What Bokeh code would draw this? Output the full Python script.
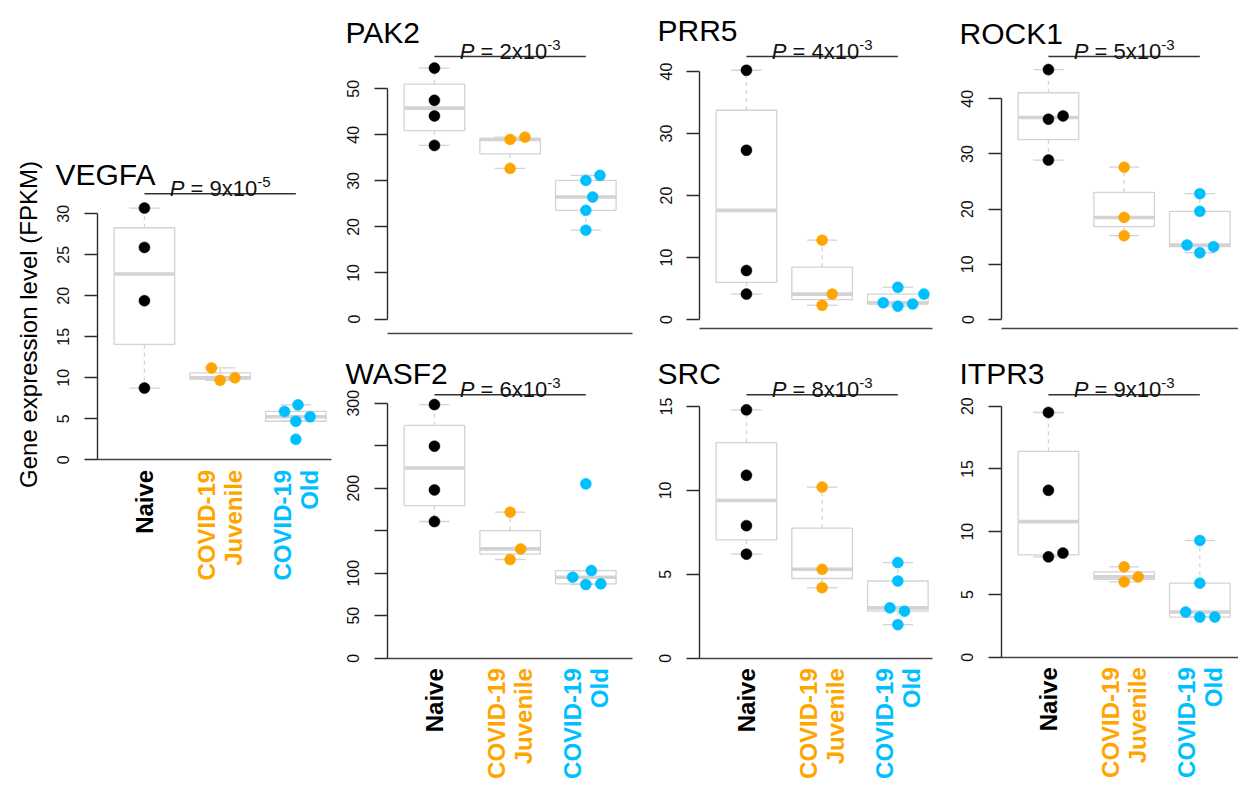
import math
from bokeh.plotting import figure
from bokeh.models import Range1d, FixedTicker, ColumnDataSource
from bokeh.layouts import row, column
from bokeh.embed import file_html
from bokeh.resources import INLINE
from bokeh.core.properties import value

FONT = "Liberation Sans"

# ---------------- data ----------------
GROUP_LABELS = ["Naive", "COVID-19\nJuvenile", "COVID-19\nOld"]
GROUP_COLORS = ["#000000", "#FFA500", "#00BFFF"]

VEGFA = [[30.7, 25.9, 19.4, 8.75], [11.2, 9.7, 10.0], [6.7, 5.9, 5.25, 4.7, 2.5]]
PAK2 = [[54.5, 47.5, 44.1, 37.7], [39.0, 39.5, 32.7], [31.2, 30.1, 26.5, 23.6, 19.3]]
PRR5 = [[40.2, 27.3, 7.9, 4.1], [12.8, 4.1, 2.3], [5.2, 4.1, 2.7, 2.5, 2.15]]
ROCK1 = [[45.3, 36.9, 36.3, 28.9], [27.6, 18.5, 15.2], [22.8, 19.6, 13.5, 13.2, 12.1]]
WASF2 = [[298.4, 249.4, 198.0, 160.8], [171.8, 128.6, 116.1], [205.1, 103.1, 95.3, 87.5, 86.7]]
SRC = [[14.8, 10.9, 7.9, 6.2], [10.2, 5.3, 4.2], [5.7, 4.6, 3.0, 2.8, 2.0]]
ITPR3 = [[19.5, 13.3, 8.3, 8.0], [7.2, 6.4, 6.0], [9.3, 5.9, 3.6, 3.2, 3.2]]

GENES = ["VEGFA", "PAK2", "PRR5", "ROCK1", "WASF2", "SRC", "ITPR3"]
GENE_DATA = [VEGFA, PAK2, PRR5, ROCK1, WASF2, SRC, ITPR3]
P_MANTISSA = ["9", "2", "4", "5", "6", "8", "9"]
P_EXPONENT = ["-5", "-3", "-3", "-3", "-3", "-3", "-3"]
Y_TICK_STEP = [5, 10, 10, 10, 50, 5, 5]
Y_TICK_MAX = [30, 50, 40, 40, 300, 15, 20]
Y_HIDDEN_LABELS = [[], [], [], [], [150, 250], [], []]
Y_TITLE = "Gene expression level (FPKM)"

# ---------------- layout (page pixels) ----------------
# canvas left, top, right, bottom | y-axis x | x-axis line y, x-axis line right end |
# pixel y of value 0 | px length of axis 0..max tick | title baseline | p-value bar y
GEOM = {
    "VEGFA": (0, 0, 338, 786, 97, 459.3, 331, 459.3, 246.0, 174.3, 193.3),
    "PAK2": (338, 0, 640, 345, 387, 333.3, 632, 318.5, 230.2, 31.7, 56.0),
    "PRR5": (640, 0, 945, 345, 699, 328.3, 932, 319.0, 248.0, 30.0, 56.0),
    "ROCK1": (945, 0, 1238, 345, 1001, 328.3, 1238, 319.0, 220.7, 33.3, 56.0),
    "WASF2": (338, 345, 640, 786, 387, 657.7, 632, 657.7, 255.0, 373.3, 394.3),
    "SRC": (640, 345, 945, 786, 699, 657.7, 932, 657.7, 251.7, 373.3, 394.3),
    "ITPR3": (945, 345, 1238, 786, 1001, 656.7, 1238, 656.7, 251.0, 373.3, 394.3),
}
PPU_X = 75.7
X_START = 0.38
SWARM_D = 15.0
BOX_COLOR = "#D3D3D3"
AXIS_COLOR = "#2b2b2b"
TEXT_COLOR = "#111111"


def fivenum(vals):
    x = sorted(vals)
    n = len(x)
    n4 = math.floor((n + 3) / 2) / 2
    d = [1, n4, (n + 1) / 2, n + 1 - n4, n]
    return [0.5 * (x[math.floor(k) - 1] + x[math.ceil(k) - 1]) for k in d]


def swarm(vals, ppu):
    n = len(vals)
    order = sorted(range(n), key=lambda i: vals[i])
    placed = []
    offs = [0.0] * n
    for i in order:
        y = vals[i] * ppu
        pre = [(py, px) for (py, px) in placed if abs(y - py) < SWARM_D]
        if not pre:
            off = 0.0
        else:
            pre.sort(key=lambda t: abs(t[1]))
            ds = [math.sqrt(max(SWARM_D ** 2 - (y - py) ** 2, 0)) for (py, px) in pre]
            cands = [0.0] + [px + d for (py, px), d in zip(pre, ds)] + [px - d for (py, px), d in zip(pre, ds)]
            good = [c for c in cands
                    if all((y - py) ** 2 + (c - px) ** 2 >= 0.999 * SWARM_D ** 2 for (py, px) in pre)]
            off = min(good, key=abs)
        placed.append((y, off))
        offs[i] = off
    return offs


def make_panel(k):
    gene = GENES[k]
    data = GENE_DATA[k]
    cl, ct, cr, cb, fl, xline_y, xline_r, y0, axis_px, title_px, bar_px = GEOM[gene]
    tmax = Y_TICK_MAX[k]
    ppu = axis_px / tmax

    def dy(px):
        return (y0 - px) / ppu

    def dx(px):
        return X_START + (px - fl) / PPU_X

    p = figure(width=cr - cl, height=cb - ct, title=None,
               x_range=Range1d(dx(cl), dx(cr)), y_range=Range1d(dy(cb), dy(ct)),
               output_backend="svg", toolbar_location=None,
               min_border_left=0, min_border_right=0, min_border_top=0, min_border_bottom=0)
    p.outline_line_color = None
    p.xgrid.visible = False
    p.ygrid.visible = False
    p.background_fill_color = "white"
    p.border_fill_color = "white"

    # y axis, placed at the left edge of the boxplot region
    ticks = list(range(0, tmax + 1, Y_TICK_STEP[k]))
    p.yaxis.fixed_location = X_START
    p.yaxis.ticker = FixedTicker(ticks=ticks)
    p.yaxis.bounds = (0, tmax)
    p.yaxis.major_label_overrides = {t: "" for t in Y_HIDDEN_LABELS[k]}
    p.yaxis.major_tick_out = 13
    p.yaxis.major_tick_in = 0
    p.yaxis.minor_tick_line_color = None
    p.yaxis.major_label_orientation = "vertical"
    p.yaxis.major_label_text_font = FONT
    p.yaxis.major_label_text_font_size = "16px"
    p.yaxis.major_label_text_color = TEXT_COLOR
    p.yaxis.major_label_standoff = 15
    p.yaxis.axis_line_color = AXIS_COLOR
    p.yaxis.axis_line_width = 1.4
    p.yaxis.major_tick_line_color = AXIS_COLOR
    p.yaxis.major_tick_line_width = 1.4

    # x axis: plain line along the bottom of the region
    p.xaxis.fixed_location = dy(xline_y)
    p.xaxis.bounds = (X_START, dx(xline_r))
    p.xaxis.ticker = FixedTicker(ticks=[])
    p.xaxis.major_tick_out = 0
    p.xaxis.major_tick_in = 0
    p.xaxis.minor_tick_line_color = None
    p.xaxis.major_label_text_font_size = "0px"
    p.xaxis.major_label_standoff = 0
    p.xaxis.axis_line_color = "#444444"
    p.xaxis.axis_line_width = 1.4

    # boxplots (Tukey hinges, 1.5 IQR whiskers)
    for g, vals in enumerate(data):
        xc = g + 1
        mn, h1, med, h3, mx = fivenum(vals)
        iqr = h3 - h1
        wlo = min(v for v in vals if v >= h1 - 1.5 * iqr)
        whi = max(v for v in vals if v <= h3 + 1.5 * iqr)
        p.quad(left=[xc - 0.4], right=[xc + 0.4], bottom=[h1], top=[h3],
               fill_color=None, line_color=BOX_COLOR, line_width=1.3)
        if whi > h3:
            p.segment(x0=[xc], x1=[xc], y0=[h3], y1=[whi], line_color=BOX_COLOR,
                      line_width=1.3, line_dash="4 4")
        if wlo < h1:
            p.segment(x0=[xc], x1=[xc], y0=[h1], y1=[wlo], line_color=BOX_COLOR,
                      line_width=1.3, line_dash="4 4")
        p.segment(x0=[xc - 0.2, xc - 0.2], x1=[xc + 0.2, xc + 0.2], y0=[whi, wlo], y1=[whi, wlo],
                  line_color=BOX_COLOR, line_width=1.3)
        p.segment(x0=[xc - 0.4], x1=[xc + 0.4], y0=[med], y1=[med], line_color=BOX_COLOR,
                  line_width=3.6)

    # points (beeswarm)
    for g, vals in enumerate(data):
        offs = swarm(vals, ppu)
        xs = [g + 1 + o / PPU_X for o in offs]
        p.scatter(x=xs, y=vals, size=11, fill_color=GROUP_COLORS[g],
                  line_color=GROUP_COLORS[g], line_width=0.5)

    # p-value bar and text
    yb = dy(bar_px)
    p.segment(x0=[1], x1=[3], y0=[yb], y1=[yb], line_color="#333333", line_width=1.4)
    e, s = 22, 15
    wP, wSp, wM, wS = 0.667 * e, 0.278 * e, 3.308 * e, 0.889 * s
    start = -(wP + wM + wS) / 2
    ybase = dy(bar_px - 5.5)
    ysup = dy(bar_px - 5.5 - 6.5)
    p.text(x=[2], y=[ybase], text=["P"], text_font=value(FONT), text_font_size=f"{e}px",
           text_font_style="italic", text_align="right", text_baseline="alphabetic",
           x_offset=start + wP, text_color=TEXT_COLOR)
    p.text(x=[2], y=[ybase], text=[f"= {P_MANTISSA[k]}x10"], text_font=value(FONT),
           text_font_size=f"{e}px", text_align="left", text_baseline="alphabetic",
           x_offset=start + wP + wSp, text_color=TEXT_COLOR)
    p.text(x=[2], y=[ysup], text=[P_EXPONENT[k]], text_font=value(FONT),
           text_font_size=f"{s}px", text_align="left", text_baseline="alphabetic",
           x_offset=start + wP + wM, text_color=TEXT_COLOR)

    # gene title
    p.text(x=[dx(fl - 42)], y=[dy(title_px)], text=[gene], text_font=value(FONT),
           text_font_size="30px", text_align="left", text_baseline="alphabetic",
           text_color="black")

    # group labels under VEGFA and bottom-row panels
    if xline_y == y0:
        src = ColumnDataSource(dict(x=[1, 2, 3], y=[dy(xline_y + 10)] * 3,
                                    text=GROUP_LABELS, lab_color=GROUP_COLORS))
        p.text(x="x", y="y", text="text", source=src, angle=math.pi / 2,
               text_color="lab_color", text_font=value(FONT),
               text_font_size="24px", text_font_style="bold",
               text_align="right", text_baseline="middle", text_line_height=0.98)
    if gene == "VEGFA":
        p.text(x=[dx(28)], y=[dy(324)], text=[Y_TITLE], angle=math.pi / 2,
               text_font=value(FONT), text_font_size="24px", text_align="center",
               text_baseline="middle", text_color="black")
    return p


panels = [make_panel(k) for k in range(len(GENES))]
layout = row(panels[0],
             column(row(panels[1], panels[2], panels[3]),
                    row(panels[4], panels[5], panels[6])))

open("out.html", "w").write(file_html(layout, INLINE))
